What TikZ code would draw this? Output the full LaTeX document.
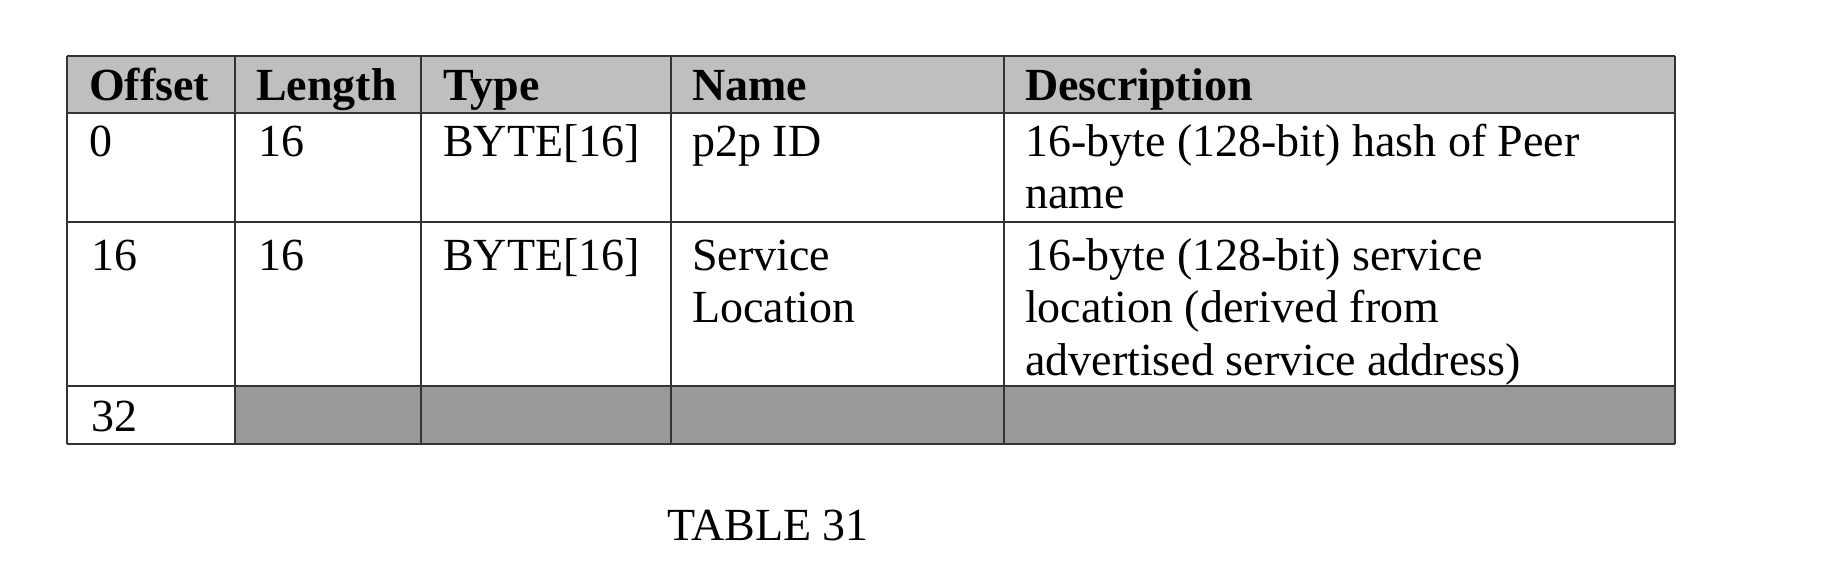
\documentclass[tikz,border=0pt]{standalone}
\usepackage{fontspec}
\setmainfont{Liberation Serif}
\begin{document}
\begin{tikzpicture}[x=1pt,y=-1pt,
  t/.style={anchor=base west,inner sep=0pt,font=\fontsize{46}{52}\selectfont},
  h/.style={t,font=\fontsize{46}{52}\selectfont\bfseries},
  ln/.style={line width=1.5pt,black!80}]
\useasboundingbox (0,0) rectangle (1824,564);
\fill[gray!50] (67,56) rectangle (1675,113);
\fill[gray!80] (235,386) rectangle (1675,444);
\foreach \y in {56,113,222,386,444} \draw[ln] (67,\y) -- (1675,\y);
\foreach \x in {67,235,421,671,1004,1675} \draw[ln] (\x,56) -- (\x,444);
\node[h] (h1) at (89,101) {Offset};
\node[h] (h2) at (256,101) {Length};
\node[h] (h3) at (443,101) {Type};
\node[h] (h4) at (692,101) {Name};
\node[h] (h5) at (1025,101) {Description};
\node[t] (a1) at (89,157) {0};
\node[t] (a2) at (258,157) {16};
\node[t] (a3) at (443,157) {BYTE[16]};
\node[t] (a4) at (692,157) {p2p ID};
\node[t] (a5) at (1025,157) {16-byte (128-bit) hash of Peer};
\node[t] (a6) at (1025,209) {name};
\node[t] (b1) at (91,270) {16};
\node[t] (b2) at (258,270) {16};
\node[t] (b3) at (443,270) {BYTE[16]};
\node[t] (b4) at (692,270) {Service};
\node[t] (b5) at (692,323) {Location};
\node[t] (b6) at (1025,270) {16-byte (128-bit) service};
\node[t] (b7) at (1025,323) {location (derived from};
\node[t] (b8) at (1025,375) {advertised service address)};
\node[t] (c1) at (91,431) {32};
\node[t,anchor=base] (cap) at (768,540) {TABLE 31};
\end{tikzpicture}
\end{document}
